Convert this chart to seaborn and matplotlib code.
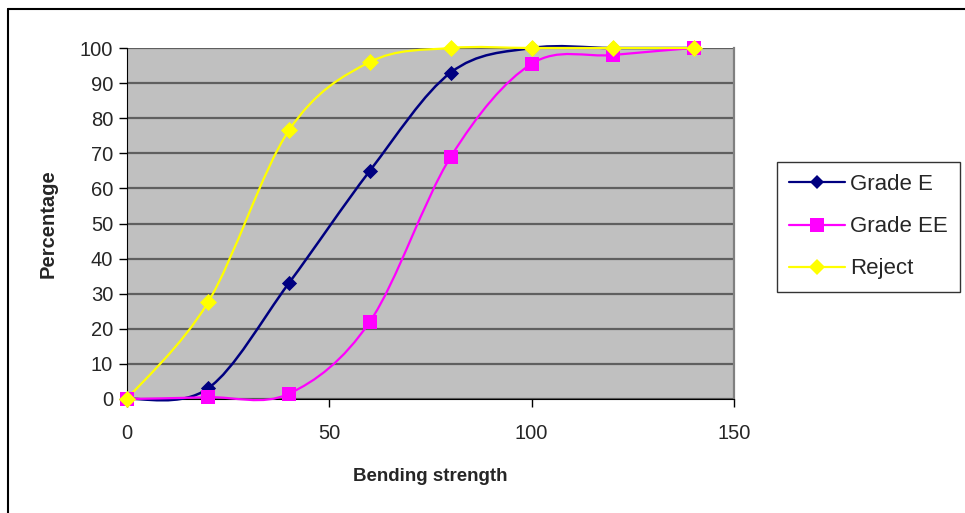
import numpy as np
import pandas as pd
import matplotlib
matplotlib.use("Agg")
import matplotlib.pyplot as plt
from matplotlib.path import Path
from matplotlib.patches import PathPatch
from matplotlib.lines import Line2D
import seaborn as sns

strength = [0, 20, 40, 60, 80, 100, 120, 140]
grade_e = [0, 3, 33, 65, 93, 100, 100, 100]
grade_ee = [0, 0.5, 1.5, 22, 69, 95.5, 98, 100]
reject = [0, 27.5, 76.5, 96, 100, 100, 100, 100]
series_names = ["Grade E", "Grade EE", "Reject"]
x_ticks = [0, 50, 100, 150]
y_ticks = list(range(0, 101, 10))

colors = {"Grade E": "#000080", "Grade EE": "#FF00FF", "Reject": "#FFFF00"}
markers = {"Grade E": "D", "Grade EE": "s", "Reject": "D"}
msizes = {"Grade E": 60, "Grade EE": 110, "Reject": 75}

df = pd.DataFrame({
    "x": strength * 3,
    "y": grade_e + grade_ee + reject,
    "series": sum([[n] * len(strength) for n in series_names], []),
})

sns.set_style("white")
plt.rcParams["font.family"] = ["Liberation Sans", "DejaVu Sans"]

fig = plt.figure(figsize=(9.65, 5.13), dpi=100)
ax = fig.add_axes([127 / 965, (513 - 399) / 513, (734 - 127) / 965, (399 - 48) / 513])
ax.set_facecolor("#C0C0C0")


def smooth_path(xs, ys):
    pts = np.column_stack([xs, ys]).astype(float)
    n = len(pts)
    verts = [pts[0]]
    codes = [Path.MOVETO]
    for i in range(n - 1):
        p0 = pts[i - 1] if i > 0 else pts[i]
        p1 = pts[i]
        p2 = pts[i + 1]
        p3 = pts[i + 2] if i + 2 < n else pts[i + 1]
        c1 = p1 + (p2 - p0) / 6.0
        c2 = p2 - (p3 - p1) / 6.0
        verts += [c1, c2, p2]
        codes += [Path.CURVE4] * 3
    return Path(verts, codes)


for name in series_names:
    sub = df[df.series == name]
    patch = PathPatch(smooth_path(sub.x.values, sub.y.values), facecolor="none",
                      edgecolor=colors[name], lw=1.6 if name != "Grade E" else 1.8,
                      zorder=3, clip_on=False)
    ax.add_patch(patch)
    sns.scatterplot(data=sub, x="x", y="y", marker=markers[name], s=msizes[name],
                    color=colors[name], edgecolor=colors[name], linewidth=0,
                    ax=ax, zorder=4, clip_on=False, legend=False)

ax.set_xlim(0, 150)
ax.set_ylim(0, 100)
ax.set_xticks(x_ticks)
ax.set_yticks(y_ticks)
ax.tick_params(axis="both", labelsize=14.5, length=6, width=1, color="black", direction="out",
               left=True, bottom=True)
ax.tick_params(axis="x", pad=12)
ax.tick_params(axis="y", pad=4)
ax.yaxis.grid(True, color="#5F5F5F", lw=1.6)
ax.set_axisbelow(True)
for side in ["top", "right"]:
    ax.spines[side].set_color("#808080")
    ax.spines[side].set_linewidth(1.6)
ax.spines["left"].set_color("black")
ax.spines["bottom"].set_color("black")
ax.spines["top"].set_visible(False)

ax.set_xlabel("Bending strength", fontsize=13.5, fontweight="bold", labelpad=18)
ax.set_ylabel("Percentage", fontsize=14.5, fontweight="bold", labelpad=16)

handles = [Line2D([0], [0], color=colors[n], marker=markers[n], lw=1.6,
                  markersize={"Grade E": 7, "Grade EE": 10, "Reject": 8}[n],
                  markeredgewidth=0) for n in series_names]
leg = fig.legend(handles, series_names, loc="upper left",
                 bbox_to_anchor=(777 / 965, 1 - 162 / 513), fontsize=16,
                 frameon=True, fancybox=False, edgecolor="black", handlelength=2.5,
                 labelspacing=0.95, borderpad=0.55, handletextpad=0.25,
                 borderaxespad=0)
leg.get_frame().set_linewidth(1.0)

# outer chart border
fig.add_artist(Line2D([8 / 965, 1.0], [1 - 9 / 513, 1 - 9 / 513], color="black", lw=1.5,
                      transform=fig.transFigure))
fig.add_artist(Line2D([8 / 965, 8 / 965], [0, 1 - 9 / 513], color="black", lw=1.5,
                      transform=fig.transFigure))

fig.savefig("out.png", dpi=100, facecolor="white")
